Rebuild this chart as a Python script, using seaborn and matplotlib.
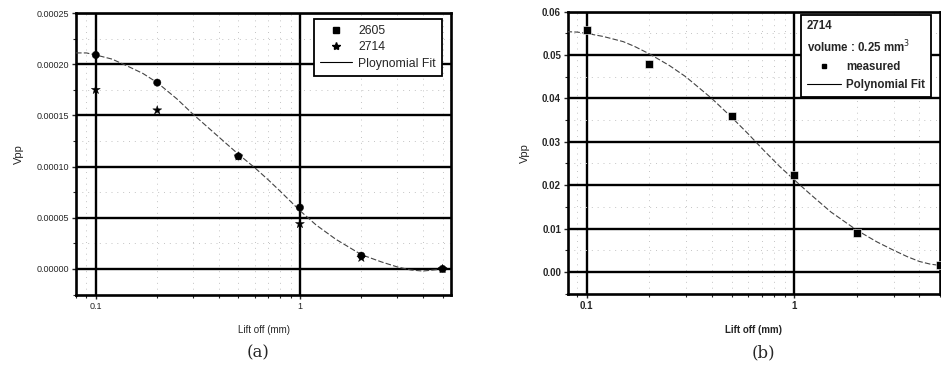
#!/usr/bin/env python3
import numpy as np
import pandas as pd
import matplotlib
matplotlib.use("Agg")
import matplotlib.pyplot as plt
from matplotlib.ticker import FixedLocator, FuncFormatter, LogLocator, MultipleLocator, NullFormatter
from matplotlib.lines import Line2D
import seaborn as sns

# Panel (a): two samples, Vpp vs lift off
lift_off = [0.1, 0.2, 0.5, 1, 2, 5]
vpp_2605 = [0.000209, 0.000182, 0.000110, 0.000060, 0.000013, 0.0000]
vpp_2714 = [0.000175, 0.000155, 0.000110, 0.000044, 0.000011, 0.0000]
# fit curve
fit_a_x = [0.08, 0.09, 0.1, 0.12, 0.14, 0.17, 0.2, 0.25, 0.3, 0.4, 0.5, 0.6, 0.7, 0.8,
           1, 1.2, 1.5, 2, 2.5, 3, 3.5, 4, 4.5, 5]
fit_a_y = [0.000211, 0.000211, 0.000209, 0.000205, 0.000199, 0.000191, 0.000182, 0.000166,
           0.000151, 0.000129, 0.000112, 0.000099, 0.000087, 0.000076, 0.000057, 0.000043,
           0.000029, 0.000014, 0.000007, 0.000002, -0.000001, -0.000002, -0.000001, 0.0000]

# Panel (b): sample 2714, volume 0.25 mm^3
vpp_b = [0.0558, 0.0480, 0.0360, 0.0223, 0.0089, 0.0017]
fit_b_x = [0.08, 0.09, 0.1, 0.12, 0.15, 0.17, 0.2, 0.25, 0.3, 0.4, 0.5, 0.6, 0.7, 0.85,
           1, 1.2, 1.5, 2, 2.5, 3, 3.5, 4, 4.5, 5]
fit_b_y = [0.0554, 0.0553, 0.0550, 0.0543, 0.0531, 0.0520, 0.0503, 0.0476, 0.0450, 0.0400,
           0.0356, 0.0318, 0.0284, 0.0243, 0.0212, 0.0178, 0.0138, 0.0096, 0.0069, 0.0050,
           0.0035, 0.0024, 0.0018, 0.0015]

sns.set_style("white")
plt.rcParams["font.family"] = ["Liberation Sans", "DejaVu Sans"]

fig = plt.figure(figsize=(9.41, 3.78), dpi=100)
ax_a = fig.add_axes([0.0808, 0.2196, 0.3985, 0.746])
ax_b = fig.add_axes([0.6036, 0.2222, 0.3953, 0.7468])


def style_axes(ax, xlim, ylim, ystep, yfmt, bold=False):
    ax.set_xscale("log")
    ax.set_xlim(*xlim)
    ax.set_ylim(*ylim)
    ax.xaxis.set_major_locator(FixedLocator([0.1, 1]))
    ax.xaxis.set_major_formatter(FuncFormatter(lambda v, p: f"{v:g}"))
    ax.xaxis.set_minor_locator(LogLocator(base=10, subs=np.arange(2, 10)))
    ax.xaxis.set_minor_formatter(NullFormatter())
    ax.yaxis.set_major_locator(MultipleLocator(ystep))
    ax.yaxis.set_minor_locator(MultipleLocator(ystep / 2))
    ax.yaxis.set_major_formatter(FuncFormatter(lambda v, p: yfmt.format(v)))
    ax.grid(which="major", color="black", lw=1.7)
    ax.grid(which="minor", color="#c4c4c4", lw=0.7, ls=(0, (1, 5)))
    ax.set_axisbelow(True)
    for s in ax.spines.values():
        s.set_color("black")
        s.set_linewidth(1.9)
    weight = "bold" if bold else "normal"
    ax.tick_params(which="major", direction="out", length=3, width=1, labelsize=7 if bold else 6.5,
                   left=True, bottom=True, pad=2)
    ax.tick_params(which="minor", direction="out", length=2, width=0.8, left=True, bottom=True)
    for lab in ax.get_xticklabels() + ax.get_yticklabels():
        lab.set_fontweight(weight)
    ax.set_xlabel("Lift off (mm)", fontsize=7, labelpad=10, fontweight=weight)
    ax.set_ylabel("Vpp", fontsize=8, labelpad=9)


# panel (a)
df_a = pd.DataFrame({
    "lift": lift_off * 2,
    "vpp": vpp_2605 + vpp_2714,
    "sample": ["2605"] * len(lift_off) + ["2714"] * len(lift_off),
})
fit_a = pd.DataFrame({"lift": fit_a_x, "vpp": fit_a_y})
sns.lineplot(data=fit_a, x="lift", y="vpp", ax=ax_a, color="#444444", lw=0.8,
             ls=(0, (5, 2)), zorder=3)
sns.scatterplot(data=df_a, x="lift", y="vpp", style="sample", markers={"2605": "o", "2714": "*"},
                color="black", s=[28] * len(lift_off) + [46] * len(lift_off), ax=ax_a,
                edgecolor="black", linewidth=0.3, zorder=4, legend=False)
style_axes(ax_a, (0.08, 5.5), (-0.0000254, 0.00025), 0.00005, "{:.5f}")
handles_a = [
    Line2D([], [], marker="s", ls="", color="black", ms=4),
    Line2D([], [], marker="*", ls="", color="black", ms=6),
    Line2D([], [], color="black", lw=0.8),
]
leg_a = ax_a.legend(handles_a, ["2605", "2714", "Ploynomial Fit"], loc="upper right",
                    bbox_to_anchor=(0.976, 0.979), borderaxespad=0, fontsize=8.8,
                    frameon=True, fancybox=False, edgecolor="black", handlelength=2.6,
                    borderpad=0.5, labelspacing=0.35, handletextpad=0.5)
leg_a.get_frame().set_linewidth(1.3)
leg_a.get_frame().set_alpha(1)

# panel (b)
df_b = pd.DataFrame({"lift": lift_off, "vpp": vpp_b})
fit_b = pd.DataFrame({"lift": fit_b_x, "vpp": fit_b_y})
sns.lineplot(data=fit_b, x="lift", y="vpp", ax=ax_b, color="#444444", lw=0.8,
             ls=(0, (5, 2)), zorder=3)
sns.scatterplot(data=df_b, x="lift", y="vpp", marker="s", color="black", s=26,
                ax=ax_b, zorder=4, clip_on=False)
style_axes(ax_b, (0.0813, 5.02), (-0.0051, 0.06), 0.01, "{:.2f}", bold=True)
handles_b = [
    Line2D([], [], marker="s", ls="", color="black", ms=3.5),
    Line2D([], [], color="black", lw=0.8),
]
leg_b = ax_b.legend(handles_b, ["measured", "Polynomial Fit"], loc="upper right",
                    bbox_to_anchor=(0.976, 0.99), borderaxespad=0, fontsize=8.3,
                    frameon=True, fancybox=False, edgecolor="black", handlelength=2.9,
                    borderpad=0.5, labelspacing=0.5,
                    title="2714\nvolume : 0.25 mm$^3$", title_fontsize=8.3, alignment="left",
                    handletextpad=0.5)
leg_b.get_frame().set_linewidth(1.3)
leg_b.get_frame().set_alpha(1)
leg_b.get_title().set_fontweight("bold")
leg_b.get_title().set_linespacing(1.5)
for t in leg_b.get_texts():
    t.set_fontweight("bold")

fig.text(0.274, 0.055, "(a)", fontsize=12, family="DejaVu Serif", ha="center")
fig.text(0.811, 0.055, "(b)", fontsize=12, family="DejaVu Serif", ha="center")

fig.savefig("out.png", dpi=100)
